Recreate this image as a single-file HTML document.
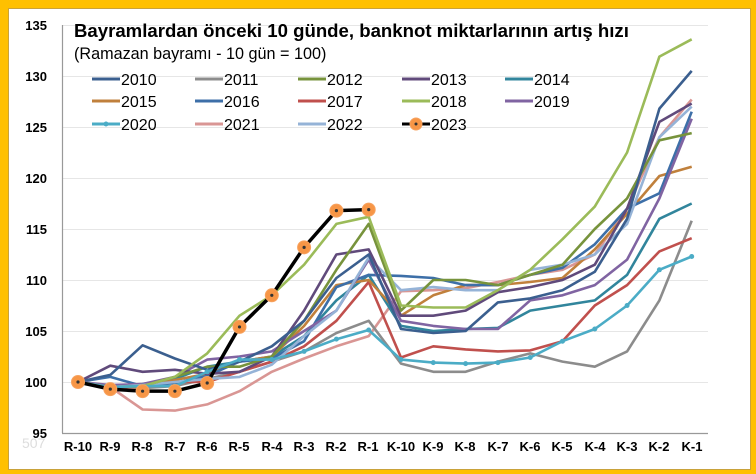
<!DOCTYPE html>
<html><head><meta charset="utf-8"><style>
body{margin:0;width:756px;height:474px;background:#ffc000;overflow:hidden;font-family:"Liberation Sans",sans-serif}
#box{position:absolute;left:8px;top:8px;width:741px;height:460px;background:#fff;border:1px solid #c9a23a}
svg{position:absolute;left:0;top:0}
</style></head><body>
<div id="box"></div>
<svg id="s" width="756" height="474" xmlns="http://www.w3.org/2000/svg" font-family="Liberation Sans, sans-serif">
<g stroke="#e6e6e6" stroke-width="1">
<line x1="62" x2="708" y1="25.5" y2="25.5"/><line x1="62" x2="708" y1="76.5" y2="76.5"/><line x1="62" x2="708" y1="127.5" y2="127.5"/><line x1="62" x2="708" y1="178.5" y2="178.5"/><line x1="62" x2="708" y1="229.5" y2="229.5"/><line x1="62" x2="708" y1="280.5" y2="280.5"/><line x1="62" x2="708" y1="331.5" y2="331.5"/><line x1="62" x2="708" y1="382.5" y2="382.5"/>
</g>
<g stroke="#999" stroke-width="1.2" id="ax">
<line x1="62.5" y1="25" x2="62.5" y2="433"/><line x1="62" y1="433.5" x2="708" y2="433.5"/>
</g>
<g font-size="13" font-weight="bold" text-anchor="end" fill="#000">
<text x="47" y="30">135</text><text x="47" y="81">130</text><text x="47" y="132">125</text><text x="47" y="183">120</text><text x="47" y="234">115</text><text x="47" y="285">110</text><text x="47" y="336">105</text><text x="47" y="387">100</text><text x="47" y="438">95</text>
</g>
<text x="22" y="448" font-size="14" fill="#ddd">507</text>
<g font-size="13" font-weight="bold" text-anchor="middle">
<text x="78" y="451">R-10</text><text x="110" y="451">R-9</text><text x="142" y="451">R-8</text><text x="175" y="451">R-7</text><text x="207" y="451">R-6</text><text x="239" y="451">R-5</text><text x="272" y="451">R-4</text><text x="304" y="451">R-3</text><text x="336" y="451">R-2</text><text x="368" y="451">R-1</text><text x="401" y="451">K-10</text><text x="433" y="451">K-9</text><text x="465" y="451">K-8</text><text x="498" y="451">K-7</text><text x="530" y="451">K-6</text><text x="562" y="451">K-5</text><text x="595" y="451">K-4</text><text x="627" y="451">K-3</text><text x="659" y="451">K-2</text><text x="692" y="451">K-1</text>
</g>
<g id="lines" fill="none" stroke-width="2.6" stroke-linejoin="round"></g>
<text x="74" y="37" font-size="18.6" font-weight="bold">Bayramlardan önceki 10 günde, banknot miktarlarının artış hızı</text>
<text x="74" y="59" font-size="16.2">(Ramazan bayramı - 10 gün = 100)</text>
<g font-size="16">
<line x1="92" x2="120" y1="79" y2="79" stroke="#3b5f8f" stroke-width="3"/><text x="121" y="85">2010</text>
<line x1="195" x2="223" y1="79" y2="79" stroke="#8c8c8c" stroke-width="3"/><text x="224" y="85">2011</text>
<line x1="298" x2="326" y1="79" y2="79" stroke="#77933c" stroke-width="3"/><text x="327" y="85">2012</text>
<line x1="402" x2="430" y1="79" y2="79" stroke="#604a7b" stroke-width="3"/><text x="431" y="85">2013</text>
<line x1="505" x2="533" y1="79" y2="79" stroke="#31859c" stroke-width="3"/><text x="534" y="85">2014</text>
<line x1="92" x2="120" y1="101" y2="101" stroke="#c0803c" stroke-width="3"/><text x="121" y="107">2015</text>
<line x1="195" x2="223" y1="101" y2="101" stroke="#3d6fa8" stroke-width="3"/><text x="224" y="107">2016</text>
<line x1="298" x2="326" y1="101" y2="101" stroke="#c0504d" stroke-width="3"/><text x="327" y="107">2017</text>
<line x1="402" x2="430" y1="101" y2="101" stroke="#9bbb59" stroke-width="3"/><text x="431" y="107">2018</text>
<line x1="505" x2="533" y1="101" y2="101" stroke="#8064a2" stroke-width="3"/><text x="534" y="107">2019</text>
<line x1="92" x2="120" y1="124" y2="124" stroke="#4bacc6" stroke-width="3"/><circle cx="106" cy="124" r="2.5" fill="#4bacc6"/><text x="121" y="130">2020</text>
<line x1="195" x2="223" y1="124" y2="124" stroke="#d99694" stroke-width="3"/><text x="224" y="130">2021</text>
<line x1="298" x2="326" y1="124" y2="124" stroke="#95b3d7" stroke-width="3"/><text x="327" y="130">2022</text>
<line x1="402" x2="430" y1="124" y2="124" stroke="#000" stroke-width="3"/><circle cx="416" cy="124" r="6" fill="#f79646" stroke="#f7a25f"/><circle cx="416" cy="124" r="1.5" fill="#333"/><text x="431" y="130">2023</text>
</g>
</svg>
<script>
var S={
"#d99694":[100,99.5,97.3,97.2,97.8,99.1,101,102.3,103.5,104.5,108.9,109,109.2,109.8,110.5,111,112.5,117,124,127.7],
"#8c8c8c":[100,99.6,99.4,99.6,100.3,101,102,103,104.8,106,101.8,101,101,102,102.8,102,101.5,103,108,115.8],
"#c0504d":[100,99.5,99.5,100,100,101,102,103.5,106,109.8,102.4,103.5,103.2,103,103.1,104,107.5,109.5,112.8,114.1],
"#31859c":[100,99.6,99.8,100.3,101.5,102,102.5,104.5,108,110.5,105.5,105,105.2,105.3,107,107.5,108,110.5,116,117.5],
"#c0803c":[100,99.6,99.5,100.2,100.8,102,102.5,105.5,109.5,110,106.5,108.5,109.5,109.5,109.8,110.2,113,116.5,120.2,121.1],
"#3d6fa8":[100,100.5,99.6,99.9,100.6,102,102.3,104,109.3,110.5,110.4,110.2,109.5,109.5,110.5,111.2,113.5,117,118.5,126.5],
"#8064a2":[100,99.7,99.8,100.5,102.2,102.5,103,105,107,112,106,105.5,105.2,105.2,108,108.5,109.5,112,118,125.8],
"#95b3d7":[100,99.5,99.7,100,100.3,100.5,101.7,104.5,107,112.2,109,109.3,109,109,111,111.5,112.5,115.5,124,127],
"#604a7b":[100,101.6,101,101.2,100.8,101,102.5,107,112.5,113,106.5,106.5,107,108.8,109.3,110,111.5,117,125.5,127.3],
"#77933c":[100,99.5,99.6,100.5,101.5,101.5,102.5,106,111,115.5,107,110,110,109.5,110.5,111.5,115,118,123.7,124.4],
"#3b5f8f":[100,100.7,103.6,102.3,101.2,102,103.5,106,110.2,112.5,105.2,104.8,105,107.8,108.2,109,110.8,116,126.8,130.5],
"#9bbb59":[100,99.5,99.6,100.5,102.8,106.5,108.5,111.5,115.5,116.2,107.5,107.3,107.3,109,111,114,117.2,122.5,131.9,133.6],
"#4bacc6":[100,99.5,99.6,99.6,101,102.2,102.2,103,104.2,105.1,102.2,101.9,101.8,101.9,102.4,104,105.2,107.5,111,112.3]};
function X(i){return 78+i*32.3}function Y(v){return 433-(v-95)*10.2}
var g=document.getElementById('lines'),h='';
for(var c in S){var p=S[c].map(function(v,i){return X(i).toFixed(1)+','+Y(v).toFixed(1)}).join(' ');
h+='<polyline points="'+p+'" stroke="'+c+'"/>';
if(c=="#4bacc6")S[c].forEach(function(v,i){h+='<circle cx="'+X(i)+'" cy="'+Y(v)+'" r="2.5" fill="'+c+'" stroke="none"/>'});}
var b=[100,99.3,99.1,99.1,99.9,105.4,108.5,113.2,116.8,116.9];
h+='<polyline points="'+b.map(function(v,i){return X(i)+','+Y(v)}).join(' ')+'" stroke="#000" stroke-width="3.5"/>';
b.forEach(function(v,i){h+='<circle cx="'+X(i)+'" cy="'+Y(v)+'" r="6.5" fill="#f79646" stroke="#f7a25f" stroke-width="1"/><circle cx="'+X(i)+'" cy="'+Y(v)+'" r="1.6" fill="#333" stroke="none"/>'});
g.innerHTML=h;
</script>
</body></html>
